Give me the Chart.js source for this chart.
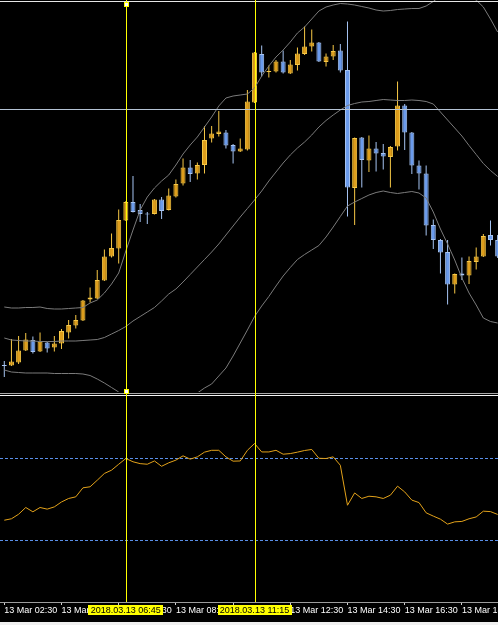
<!DOCTYPE html>
<html>
<head>
<meta charset="utf-8">
<script src="https://cdn.jsdelivr.net/npm/chart.js@4.4.1/dist/chart.umd.min.js"></script>
<style>
  html, body { margin: 0; padding: 0; background: #f0f0f0; }
  #wrap { width: 498px; height: 622px; background: #000; }
  canvas { display: block; background: #000; }
</style>
</head>
<body>
<div id="wrap">
  <canvas id="main" width="498" height="392"></canvas>
  <canvas id="osc" width="498" height="230"></canvas>
</div>
<script>
// EURUSD M15, 13 Mar 2018
const open = [1.23369, 1.23369, 1.23375, 1.23399, 1.23420, 1.23397, 1.23415, 1.23405, 1.23413, 1.23435,
  1.23449, 1.23459, 1.23501, 1.23503, 1.23539, 1.23587, 1.23603, 1.23659, 1.23696, 1.23680,
  1.23672, 1.23672, 1.23701, 1.23680, 1.23707, 1.23733, 1.23765, 1.23753, 1.23770, 1.23823,
  1.23832, 1.23835, 1.23810, 1.23797, 1.23801, 1.23895, 1.23992, 1.23956, 1.23957, 1.23977,
  1.23953, 1.23970, 1.23992, 1.24007, 1.24015, 1.23976, 1.23987, 1.23999, 1.23960, 1.23724,
  1.23825, 1.23779, 1.23803, 1.23794, 1.23786, 1.23807, 1.23889, 1.23835, 1.23769, 1.23753,
  1.23650, 1.23620, 1.23596, 1.23531, 1.23553, 1.23549, 1.23576, 1.23587, 1.23630, 1.23620];
const high = [1.23378, 1.23422, 1.23428, 1.23434, 1.23427, 1.23435, 1.23416, 1.23428, 1.23442, 1.23460,
  1.23470, 1.23500, 1.23525, 1.23560, 1.23601, 1.23633, 1.23681, 1.23698, 1.23748, 1.23692,
  1.23676, 1.23702, 1.23706, 1.23723, 1.23741, 1.23783, 1.23780, 1.23775, 1.23848, 1.23848,
  1.23878, 1.23840, 1.23812, 1.23823, 1.23920, 1.23996, 1.24009, 1.23969, 1.23980, 1.23999,
  1.23980, 1.24005, 1.24047, 1.24041, 1.24016, 1.23993, 1.24010, 1.24012, 1.24057, 1.23825,
  1.23826, 1.23829, 1.23816, 1.23812, 1.23808, 1.23937, 1.23892, 1.23836, 1.23779, 1.23769,
  1.23661, 1.23622, 1.23620, 1.23553, 1.23585, 1.23587, 1.23605, 1.23632, 1.23659, 1.23630];
const low = [1.23346, 1.23368, 1.23372, 1.23398, 1.23393, 1.23396, 1.23395, 1.23397, 1.23402, 1.23423,
  1.23443, 1.23458, 1.23495, 1.23502, 1.23538, 1.23585, 1.23573, 1.23658, 1.23675, 1.23656,
  1.23652, 1.23671, 1.23662, 1.23679, 1.23705, 1.23729, 1.23736, 1.23741, 1.23753, 1.23815,
  1.23827, 1.23803, 1.23773, 1.23796, 1.23799, 1.23894, 1.23947, 1.23945, 1.23955, 1.23953,
  1.23952, 1.23959, 1.23990, 1.23997, 1.23976, 1.23967, 1.23980, 1.23955, 1.23667, 1.23650,
  1.23725, 1.23756, 1.23757, 1.23761, 1.23725, 1.23799, 1.23800, 1.23752, 1.23721, 1.23629,
  1.23602, 1.23553, 1.23491, 1.23513, 1.23540, 1.23532, 1.23561, 1.23586, 1.23609, 1.23584];
const close = [1.23368, 1.23377, 1.23399, 1.23421, 1.23396, 1.23417, 1.23403, 1.23413, 1.23438, 1.23450,
  1.23460, 1.23499, 1.23505, 1.23540, 1.23587, 1.23604, 1.23660, 1.23696, 1.23676, 1.23672,
  1.23671, 1.23701, 1.23678, 1.23709, 1.23732, 1.23765, 1.23752, 1.23770, 1.23820, 1.23833,
  1.23837, 1.23809, 1.23797, 1.23803, 1.23897, 1.23995, 1.23955, 1.23957, 1.23977, 1.23955,
  1.23971, 1.23993, 1.24007, 1.24015, 1.23977, 1.23987, 1.23998, 1.23959, 1.23725, 1.23824,
  1.23780, 1.23803, 1.23793, 1.23787, 1.23806, 1.23889, 1.23835, 1.23769, 1.23753, 1.23649,
  1.23620, 1.23595, 1.23531, 1.23552, 1.23549, 1.23578, 1.23587, 1.23628, 1.23620, 1.23587];

// Bollinger bands
const bbUpper = [1.23486, 1.23484, 1.23484, 1.23485, 1.23485, 1.23486, 1.23483, 1.23482, 1.23482, 1.23483,
  1.23484, 1.23485, 1.23494, 1.23500, 1.23514, 1.23532, 1.23554, 1.23598, 1.23640, 1.23680,
  1.23706, 1.23724, 1.23738, 1.23750, 1.23770, 1.23792, 1.23810, 1.23826, 1.23846, 1.23866,
  1.23888, 1.23904, 1.23908, 1.23910, 1.23912, 1.23924, 1.23948, 1.23968, 1.23986, 1.24000,
  1.24016, 1.24034, 1.24046, 1.24062, 1.24078, 1.24086, 1.24090, 1.24093, 1.24092, 1.24090,
  1.24087, 1.24084, 1.24080, 1.24078, 1.24079, 1.24081, 1.24082, 1.24083, 1.24083, 1.24088,
  1.24097, 1.24108, 1.24110, 1.24110, 1.24110, 1.24106, 1.24100, 1.24086, 1.24062, 1.24036];
const bbMiddle = [1.23424, 1.23420, 1.23419, 1.23418, 1.23418, 1.23417, 1.23417, 1.23417, 1.23418, 1.23418,
  1.23418, 1.23419, 1.23420, 1.23421, 1.23425, 1.23432, 1.23439, 1.23447, 1.23458, 1.23467,
  1.23476, 1.23485, 1.23498, 1.23512, 1.23522, 1.23536, 1.23551, 1.23566, 1.23581, 1.23596,
  1.23612, 1.23630, 1.23648, 1.23666, 1.23683, 1.23700, 1.23718, 1.23738, 1.23756, 1.23774,
  1.23790, 1.23804, 1.23816, 1.23830, 1.23846, 1.23859, 1.23870, 1.23880, 1.23889, 1.23893,
  1.23896, 1.23897, 1.23899, 1.23901, 1.23900, 1.23899, 1.23899, 1.23900, 1.23899, 1.23897,
  1.23892, 1.23876, 1.23860, 1.23844, 1.23828, 1.23809, 1.23791, 1.23773, 1.23759, 1.23747];
const bbLower = [1.23360, 1.23356, 1.23355, 1.23354, 1.23354, 1.23354, 1.23354, 1.23353, 1.23353, 1.23353,
  1.23353, 1.23352, 1.23349, 1.23342, 1.23334, 1.23325, 1.23316, 1.23296, 1.23276, 1.23254,
  1.23244, 1.23246, 1.23258, 1.23274, 1.23274, 1.23280, 1.23292, 1.23314, 1.23324, 1.23332,
  1.23348, 1.23364, 1.23388, 1.23414, 1.23440, 1.23467, 1.23488, 1.23507, 1.23528, 1.23548,
  1.23565, 1.23581, 1.23591, 1.23600, 1.23609, 1.23626, 1.23646, 1.23667, 1.23688, 1.23696,
  1.23703, 1.23710, 1.23715, 1.23718, 1.23715, 1.23713, 1.23715, 1.23717, 1.23714, 1.23704,
  1.23676, 1.23642, 1.23612, 1.23580, 1.23544, 1.23514, 1.23490, 1.23464, 1.23457, 1.23454];

// RSI
const rsi = [39.9, 40.6, 42.8, 46.1, 44.0, 46.1, 45.3, 46.4, 48.8, 50.5,
  51.3, 55.7, 56.2, 59.4, 62.7, 64.3, 67.2, 70.0, 68.4, 67.5,
  67.2, 68.8, 66.2, 67.9, 69.2, 71.3, 69.7, 70.8, 73.1, 74.0,
  74.0, 70.8, 68.7, 68.8, 74.0, 77.3, 73.2, 73.2, 74.0, 72.1,
  72.4, 73.1, 73.9, 74.4, 70.1, 70.0, 70.8, 66.7, 47.2, 53.2,
  50.5, 51.6, 51.3, 50.5, 52.1, 56.5, 53.7, 49.7, 48.5, 43.5,
  41.9, 40.4, 38.0, 39.1, 39.3, 40.6, 41.5, 44.3, 44.1, 42.7];
const rsiLevels = [70, 30];

const tickIdx = [0, 8, 16, 24, 32, 40, 48, 56, 64];
const tickLabels = ['13 Mar 02:30', '13 Mar 04:30', '13 Mar 06:30', '13 Mar 08:30', '13 Mar 10:30',
  '13 Mar 12:30', '13 Mar 14:30', '13 Mar 16:30', '13 Mar 18:30'];
const crossIdx = [17, 35];
const crossLabels = ['2018.03.13 06:45', '2018.03.13 11:15'];
const crossPrice = 1.23882;

const PRICE_MIN = 1.23316, PRICE_MAX = 1.24100;
const X_MIN = -0.6, X_MAX = 69.05;
const FONT = "'Liberation Sans', Arial, sans-serif";
const FONT_SIZE = 9;

const idx = open.map((v, i) => i);
const isUp = open.map((o, i) => close[i] > o);
const bodyFill = isUp.map(u => u ? '#de9e1c' : '#6b9bec');
const edge = isUp.map(u => u ? '#f7c846' : '#a6c4f2');

function bandSet(values) {
  return {
    type: 'line',
    data: idx.map(i => ({x: i, y: values[i]})),
    borderColor: '#7b7b7b',
    borderWidth: 1,
    pointRadius: 0,
    tension: 0,
    order: 0,
  };
}

function vLines(chart, top, bottom) {
  const ctx = chart.ctx;
  ctx.save();
  ctx.fillStyle = '#ffff00';
  crossIdx.forEach(function (c) {
    const px = Math.round(chart.scales.x.getPixelForValue(c));
    ctx.fillRect(px, top, 1, bottom - top);
  });
  ctx.restore();
}

const mainPlugin = {
  id: 'mainOverlay',
  afterDatasetsDraw: function (chart) {
    const ctx = chart.ctx;
    ctx.save();
    ctx.fillStyle = '#e6e6e6';
    ctx.fillRect(0, 1, chart.width, 1);
    const py = Math.floor(chart.scales.y.getPixelForValue(crossPrice));
    ctx.fillStyle = '#b4c2d4';
    ctx.fillRect(0, py, chart.width, 1);
    ctx.restore();
    vLines(chart, 0, chart.height);
    const px = Math.round(chart.scales.x.getPixelForValue(crossIdx[0]));
    ctx.save();
    ctx.fillStyle = '#ffff00';
    ctx.fillRect(px - 2, 2, 5, 5);
    ctx.fillRect(px - 2, chart.height - 3, 5, 3);
    ctx.fillStyle = '#ffffff';
    ctx.fillRect(px - 1, 3, 3, 3);
    ctx.fillRect(px - 1, chart.height - 2, 3, 2);
    ctx.restore();
  }
};

const oscPlugin = {
  id: 'oscOverlay',
  afterDatasetsDraw: function (chart) {
    const ctx = chart.ctx;
    ctx.save();
    ctx.fillStyle = '#a8a8a8';
    ctx.fillRect(0, 1, chart.width, 1);
    ctx.fillStyle = '#f4f4f4';
    ctx.fillRect(0, 3, chart.width, 1);
    ctx.restore();
    vLines(chart, 0, chart.chartArea.bottom);
    const px = Math.round(chart.scales.x.getPixelForValue(crossIdx[0]));
    ctx.save();
    ctx.fillStyle = '#ffff00';
    ctx.fillRect(px - 2, 0, 5, 2);
    ctx.fillStyle = '#ffffff';
    ctx.fillRect(px - 1, 0, 3, 1);
    ctx.restore();
  },
  afterDraw: function (chart) {
    const ctx = chart.ctx;
    const top = chart.chartArea.bottom + 3;
    ctx.save();
    ctx.font = FONT_SIZE + 'px ' + FONT;
    ctx.textAlign = 'center';
    ctx.textBaseline = 'middle';
    crossIdx.forEach(function (c, k) {
      const px = chart.scales.x.getPixelForValue(c);
      const w = Math.round(ctx.measureText(crossLabels[k]).width + 5);
      ctx.fillStyle = '#ffff00';
      ctx.fillRect(Math.round(px - w / 2), top, w, 10);
      ctx.fillStyle = '#000000';
      ctx.fillText(crossLabels[k], px, top + 5.5);
    });
    ctx.restore();
  }
};

new Chart(document.getElementById('main'), {
  type: 'bar',
  data: {
    datasets: [
      bandSet(bbUpper),
      bandSet(bbMiddle),
      bandSet(bbLower),
      {
        type: 'bar',
        data: idx.map(i => ({x: i, y: [open[i], close[i]]})),
        backgroundColor: bodyFill,
        borderColor: edge,
        borderWidth: 1,
        borderSkipped: false,
        barThickness: 5,
        minBarLength: 1,
        grouped: false,
        inflateAmount: 0,
        order: 1,
      },
      {
        type: 'bar',
        data: idx.map(i => ({x: i, y: [low[i], high[i]]})),
        backgroundColor: edge,
        borderWidth: 0,
        barThickness: 1,
        grouped: false,
        inflateAmount: 0,
        order: 2,
      },
    ]
  },
  options: {
    responsive: false,
    animation: false,
    devicePixelRatio: 1,
    events: [],
    layout: { padding: 0 },
    plugins: { legend: { display: false }, tooltip: { enabled: false } },
    scales: {
      x: { type: 'linear', min: X_MIN, max: X_MAX, offset: false, display: false },
      y: { type: 'linear', min: PRICE_MIN, max: PRICE_MAX, display: false },
    }
  },
  plugins: [mainPlugin]
});

new Chart(document.getElementById('osc'), {
  type: 'line',
  data: {
    datasets: [
      {
        data: idx.map(i => ({x: i, y: rsi[i]})),
        borderColor: '#e3a21a',
        borderWidth: 1,
        pointRadius: 0,
        tension: 0,
      },
    ].concat(rsiLevels.map(function (lv) {
      return {
        data: [{x: X_MIN, y: lv}, {x: X_MAX, y: lv}],
        borderColor: '#5a8fe8',
        borderWidth: 1,
        borderDash: [3, 2],
        pointRadius: 0,
      };
    }))
  },
  options: {
    responsive: false,
    animation: false,
    devicePixelRatio: 1,
    events: [],
    layout: { padding: { top: 5, left: 0, right: 0, bottom: 0 } },
    plugins: { legend: { display: false }, tooltip: { enabled: false } },
    scales: {
      x: {
        type: 'linear', min: X_MIN, max: X_MAX, offset: false,
        afterBuildTicks: function (s) { s.ticks = tickIdx.map(v => ({value: v})); },
        afterFit: function (s) { s.height = 20; s.paddingLeft = 0; s.paddingRight = 0; },
        grid: { display: true, drawOnChartArea: false, drawTicks: true, tickLength: 3, color: '#d0d0d0' },
        border: { display: true, color: '#9c9c9c' },
        ticks: {
          color: '#ffffff',
          font: { family: FONT, size: FONT_SIZE },
          align: 'start',
          padding: 0,
          autoSkip: false,
          maxRotation: 0,
          minRotation: 0,
          callback: function (v, i) { return tickLabels[i]; }
        }
      },
      y: { type: 'linear', min: 0, max: 100, display: false },
    }
  },
  plugins: [oscPlugin]
});
</script>
</body>
</html>
